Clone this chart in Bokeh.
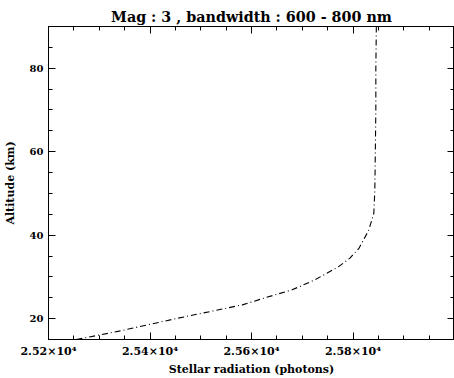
from bokeh.plotting import figure
from bokeh.models import LinearAxis, FixedTicker, Range1d
from bokeh.embed import file_html
from bokeh.resources import INLINE

# Data
altitude_km = [15, 17, 20, 23.3, 25, 26.9, 29.3, 32.4, 34.5, 36.9, 41.2, 45.2, 50.7, 60, 70, 80, 90]
radiation = [25255, 25339, 25451, 25582, 25627, 25680, 25725, 25771, 25794, 25812, 25831, 25841, 25843, 25844, 25845, 25845, 25846]

x_ticks = [25200, 25400, 25600, 25800]
x_tick_labels = ["2.52×10⁴", "2.54×10⁴", "2.56×10⁴", "2.58×10⁴"]
x_minor = [25200 + 50 * i for i in range(17)]
y_ticks = [20, 40, 60, 80]
y_minor = [15 + 5 * i for i in range(16)]

title_text = "Mag : 3 , bandwidth : 600 - 800 nm"
xlabel = "Stellar radiation (photons)"
ylabel = "Altitude (km)"

FONT = "DejaVu Serif"

p = figure(width=454, height=378, output_backend="svg", toolbar_location=None,
           x_range=Range1d(25200, 26000), y_range=Range1d(15, 90),
           min_border_left=0, min_border_right=0, min_border_top=26, min_border_bottom=0,
           title=title_text)
p.title.align = "center"
p.title.text_font = FONT
p.title.text_font_style = "bold"
p.title.text_font_size = "14.3px"
p.title.text_color = "black"
p.title.offset = 0
p.title.standoff = 3

p.grid.visible = False
p.outline_line_color = "black"
p.background_fill_color = "white"
p.border_fill_color = "white"


def style_axis(ax, ticks, minor, labels=True):
    ax.ticker = FixedTicker(ticks=ticks, minor_ticks=minor)
    ax.axis_line_color = "black"
    ax.axis_line_width = 1
    ax.major_tick_in = 7
    ax.major_tick_out = 0
    ax.minor_tick_in = 4
    ax.minor_tick_out = 0
    ax.major_tick_line_color = "black"
    ax.minor_tick_line_color = "black"
    ax.major_label_text_font = FONT
    ax.major_label_text_font_style = "bold"
    ax.major_label_text_font_size = "10px"
    ax.major_label_text_color = "black"
    ax.axis_label_text_font = FONT
    ax.axis_label_text_font_style = "bold"
    ax.axis_label_text_font_size = "11px"
    ax.axis_label_text_color = "black"
    if not labels:
        ax.major_label_overrides = {t: "" for t in ticks}
        ax.major_label_standoff = 0
        ax.major_label_text_font_size = "0px"


xa = p.xaxis[0]
style_axis(xa, x_ticks, x_minor)
xa.major_label_overrides = {t: l for t, l in zip(x_ticks, x_tick_labels)}
xa.major_label_text_font_size = "11px"
xa.axis_label = xlabel
xa.major_label_standoff = 5
xa.axis_label_standoff = 2

ya = p.yaxis[0]
style_axis(ya, y_ticks, y_minor)
ya.axis_label = ylabel
ya.major_label_standoff = 5
ya.axis_label_standoff = 10

top = LinearAxis()
style_axis(top, x_ticks, x_minor, labels=False)
p.add_layout(top, "above")

right = LinearAxis()
style_axis(right, y_ticks, y_minor, labels=False)
p.add_layout(right, "right")

p.line(radiation, altitude_km, line_color="black", line_width=1.1, line_dash="6 3 1 3")

open("out.html", "w").write(file_html(p, INLINE))
